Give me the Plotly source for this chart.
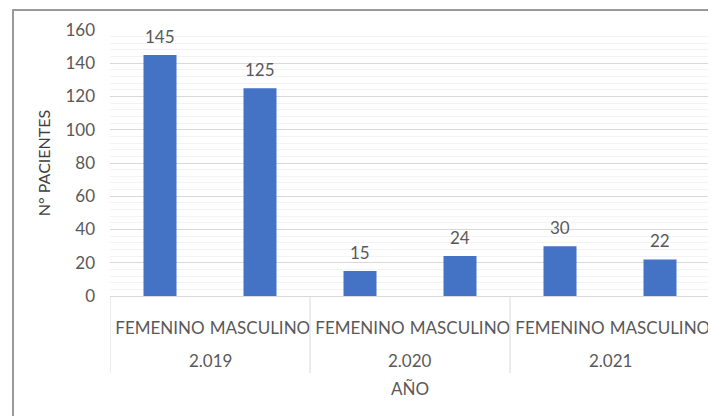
import plotly.graph_objects as go

# datos
anios = ["2.019", "2.020", "2.021"]
sexo = ["FEMENINO", "MASCULINO", "FEMENINO", "MASCULINO", "FEMENINO", "MASCULINO"]
pacientes = [145, 125, 15, 24, 30, 22]

# la página añade 8px de margen al body, se compensa aquí
W, H = 708, 408
left, right, top, bottom = 102, 6, 22, 120
pw, ph = W - left - right, H - top - bottom

gris = "#595959"
fuente = "Lato, Open Sans, sans-serif"

posiciones = list(range(len(sexo)))
por_anio = len(sexo) // len(anios)


def py(pix):
    # píxel vertical (coordenadas de la página) -> fracción del área de trazado
    return (H - bottom - (pix - 8)) / ph


def px(pix):
    return (pix - 8 - left) / pw


fig = go.Figure()

fig.add_trace(go.Bar(
    x=posiciones, y=pacientes,
    marker=dict(color="#4472C4", line=dict(width=0)),
    width=0.33,
))

# etiquetas de datos sobre las barras
for xi, val in zip(posiciones, pacientes):
    fig.add_annotation(x=xi, y=val, xref="x", yref="y",
                       text=str(val), showarrow=False, yanchor="bottom", yshift=6,
                       font=dict(size=17, color=gris, family=fuente))

# etiquetas de año y divisores del eje
for i, anio in enumerate(anios):
    centro = i * por_anio + (por_anio - 1) / 2
    fig.add_annotation(x=centro, y=py(360), xref="x", yref="paper",
                       text=anio, showarrow=False, yanchor="middle",
                       font=dict(size=17, color=gris, family=fuente))
for i in range(len(anios) + 1):
    xd = i * por_anio - 0.5
    fig.add_shape(type="line", xref="x", yref="paper",
                  x0=xd, x1=xd, y0=0, y1=py(373),
                  line=dict(color="#d9d9d9", width=1))

# marco del gráfico
fig.add_shape(type="rect", xref="paper", yref="paper",
              x0=px(13), x1=px(730), y0=py(430), y1=py(10),
              line=dict(color="#9a9a9a", width=2), fillcolor="rgba(0,0,0,0)",
              layer="below")

fig.update_layout(
    width=W, height=H,
    margin=dict(l=left, r=right, t=top, b=bottom),
    paper_bgcolor="white", plot_bgcolor="white",
    font=dict(family=fuente, color=gris, size=17),
    showlegend=False,
    xaxis=dict(
        range=[-0.5, len(sexo) - 0.5],
        tickmode="array", tickvals=posiciones, ticktext=sexo,
        ticks="", ticklabelstandoff=17,
        showgrid=False, zeroline=False,
        showline=True, linecolor="#d9d9d9", linewidth=1,
        tickfont=dict(size=17, color=gris),
        title=dict(text="AÑO", font=dict(size=17, color=gris), standoff=45),
    ),
    yaxis=dict(
        range=[0, 160], dtick=20, tick0=0,
        showgrid=True, gridcolor="#d9d9d9", gridwidth=1,
        minor=dict(dtick=4, showgrid=True, gridcolor="#f3f3f3", gridwidth=1),
        zeroline=False, showline=False,
        ticks="", ticklabelstandoff=14,
        tickfont=dict(size=17, color=gris),
        title=dict(text="N° PACIENTES", font=dict(size=16, color="#404040"), standoff=10),
    ),
)

fig.write_html("out.html")
